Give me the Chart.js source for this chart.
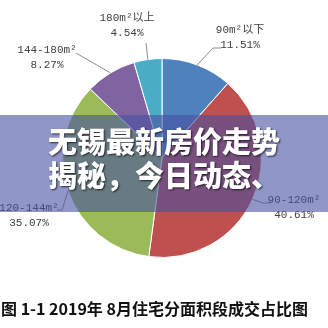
<!DOCTYPE html>
<html>
<head>
<meta charset="utf-8">
<script src="https://cdn.jsdelivr.net/npm/chart.js"></script>
<style>
  html, body { margin: 0; padding: 0; background: #fff; }
  #wrap { position: relative; width: 328px; height: 328px; overflow: hidden; }
  #pie { position: absolute; left: 0; top: 0; }
  #band {
    position: absolute; left: 0; top: 115px; width: 328px; height: 97px;
    background: rgba(70, 80, 160, 0.6);
  }
  #title {
    position: absolute; left: 0; top: 123px; width: 328px; text-align: center;
    font-family: "Noto Sans CJK SC", sans-serif; font-weight: 900; font-size: 29px;
    line-height: 34px; color: #fff; text-shadow: 1px 1px 2px rgba(0,0,0,0.7);
  }
  #caption {
    position: absolute; left: 0; top: 297px; width: 328px; padding-left: 1px;
    font-family: "Noto Sans CJK SC", sans-serif; font-weight: 700; font-size: 16px;
    line-height: 22px; color: #111; white-space: nowrap;
  }
</style>
</head>
<body>
<div id="wrap">
  <canvas id="pie" width="328" height="328"></canvas>
  <div id="band"></div>
  <div id="title">无锡最新房价走势<br>揭秘，今日动态、</div>
  <div id="caption">图 1-1 2019年 8月住宅分面积段成交占比图</div>
</div>
<script>
// data
var categories = ['90m²以下', '90-120m²', '120-144m²', '144-180m²', '180m²以上'];
var shares = [11.51, 40.61, 35.07, 8.27, 4.54];

var colors = ['#4f81bd', '#c0504d', '#9bbb59', '#8064a2', '#4bacc6'];

// where each label sits and how its leader line bends (layout only)
var labelLayout = [
  { x: 240, y: 30, line: [[213, 48], [221, 48]] },
  { x: 294, y: 200, line: [[263, 203], [270, 203]] },
  { x: 29, y: 208, line: [[62, 210], [57, 210]] },
  { x: 47, y: 50, line: [[76, 53]] },
  { x: 127, y: 18, line: [[146, 43]] }
];

var leaderLabels = {
  id: 'leaderLabels',
  afterDraw: function (chart) {
    var ctx = chart.ctx;
    var arcs = chart.getDatasetMeta(0).data;
    ctx.save();
    arcs.forEach(function (arc, i) {
      var mid = (arc.startAngle + arc.endAngle) / 2;
      var sx = arc.x + Math.cos(mid) * arc.outerRadius;
      var sy = arc.y + Math.sin(mid) * arc.outerRadius;
      var lay = labelLayout[i];
      ctx.strokeStyle = '#8c8c8c';
      ctx.lineWidth = 1;
      ctx.beginPath();
      ctx.moveTo(sx, sy);
      lay.line.forEach(function (p) { ctx.lineTo(p[0], p[1]); });
      ctx.stroke();

      ctx.fillStyle = '#404040';
      ctx.font = '11px "Liberation Mono", "Noto Sans CJK SC", monospace';
      ctx.textAlign = 'center';
      ctx.textBaseline = 'middle';
      ctx.fillText(chart.data.labels[i], lay.x, lay.y);
      ctx.fillText(chart.data.datasets[0].data[i].toFixed(2) + '%', lay.x, lay.y + 15);
    });
    ctx.restore();
  }
};

var chart = new Chart(document.getElementById('pie'), {
  type: 'pie',
  data: {
    labels: categories,
    datasets: [{
      data: shares,
      backgroundColor: colors,
      borderColor: '#ffffff',
      borderWidth: 1
    }]
  },
  options: {
    responsive: false,
    animation: false,
    layout: { padding: { left: 62, right: 66, top: 58, bottom: 70 } },
    plugins: {
      legend: { display: false },
      tooltip: { enabled: false }
    }
  },
  plugins: [leaderLabels]
});
</script>
</body>
</html>
